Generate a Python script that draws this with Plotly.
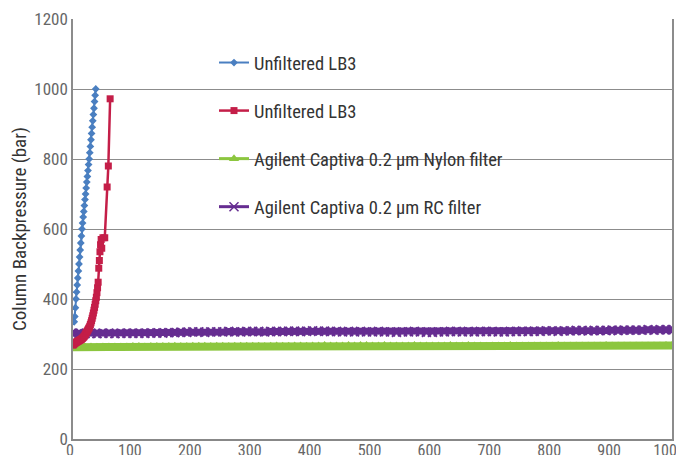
import plotly.graph_objects as go

# ---------------- data ----------------
blue_x = [2, 3, 4, 5, 6, 7, 8, 9, 10, 11, 12, 13, 14, 15, 16, 17, 18, 19, 20,
          21, 22, 23, 24, 25, 26, 27, 28, 29, 30, 31, 32, 33, 34, 35, 36, 37, 38]
blue_y = [335, 350, 375, 400, 420, 440, 460, 480, 500, 520, 540, 560, 580, 600,
          617, 634, 650, 667, 684, 700, 717, 734, 750, 767, 784, 800, 818, 836,
          855, 873, 891, 909, 927, 945, 964, 982, 1000]

red_x = [0, 1, 2, 3, 4, 5, 6, 7, 8, 9, 10, 11, 12, 13, 14, 15, 16, 17, 18, 19,
         20, 21, 22, 23, 24, 25, 26, 27, 28, 29, 30, 31, 32, 33, 34, 35, 36, 37,
         38, 39, 40, 41, 42, 43, 44, 45, 46, 47, 48, 50, 53, 57, 59, 62]
red_y = [268, 270, 272, 273, 275, 276, 277, 278, 279, 280, 281, 282, 283, 284,
         285, 287, 288, 290, 292, 294, 297, 300, 303, 306, 309, 312, 315, 318,
         322, 327, 332, 338, 345, 352, 360, 368, 376, 385, 395, 405, 418, 432,
         448, 488, 510, 535, 555, 570, 545, 575, 575, 720, 780, 972]

band_x = list(range(0, 1001, 10))
purple_y = [302, 302, 301, 302, 301, 302, 302, 301, 302, 302,
            302, 302, 302, 303, 303, 303, 304, 304, 305, 305,
            306, 306, 305, 306, 306, 306, 307, 306, 306, 307,
            307, 307, 306, 307, 307, 307, 308, 308, 307, 308,
            309, 308, 308, 307, 307, 306, 307, 306, 307, 306,
            306, 307, 306, 306, 305, 306, 306, 307, 306, 305,
            305, 306, 306, 307, 307, 306, 307, 306, 307, 307,
            307, 306, 306, 307, 307, 308, 307, 308, 308, 309,
            309, 308, 309, 309, 310, 310, 309, 310, 310, 310,
            311, 310, 311, 311, 311, 311, 312, 311, 312, 312,
            312]
green_y = [262, 263, 263, 263, 262, 263, 263, 263, 263, 263,
           264, 264, 263, 264, 264, 264, 264, 265, 264, 264,
           265, 265, 265, 264, 265, 265, 264, 265, 265, 265,
           265, 265, 264, 265, 266, 265, 265, 266, 266, 265,
           266, 266, 267, 266, 266, 266, 267, 266, 267, 267,
           266, 266, 267, 266, 266, 266, 266, 267, 266, 266,
           266, 266, 266, 267, 266, 266, 267, 266, 266, 265,
           266, 266, 266, 267, 266, 266, 266, 266, 266, 266,
           266, 267, 266, 266, 266, 266, 266, 266, 266, 267,
           266, 266, 266, 266, 266, 266, 266, 266, 266, 267,
           267]

names = ["Unfiltered LB3", "Unfiltered LB3",
         "Agilent Captiva 0.2 µm Nylon filter", "Agilent Captiva 0.2 µm RC filter"]
y_ticks = [0, 200, 400, 600, 800, 1000, 1200]
x_ticks = list(range(0, 1001, 100))

FONT = "Liberation Sans Narrow, Roboto Condensed, DejaVu Sans Condensed, Arial Narrow, sans-serif"
GREEN, PURPLE, RED, BLUE = "#8cc63f", "#662d91", "#c41e48", "#4a7fc1"

# page body has an 8px margin: shrink the figure so the page fits the window
OFF = 8
W, H = 684 - OFF, 455 - OFF
L, T = 73 - OFF, 19 - OFF
R = W - (672 - OFF)
B = H - (439 - OFF)

fig = go.Figure()
fig.add_trace(go.Scatter(x=band_x, y=green_y, name=names[2], mode="lines+markers",
                         line=dict(color=GREEN, width=8),
                         marker=dict(symbol="triangle-up", size=9, color=GREEN),
                         showlegend=False))
fig.add_trace(go.Scatter(x=band_x, y=purple_y, name=names[3], mode="lines+markers",
                         line=dict(color=PURPLE, width=7),
                         marker=dict(symbol="x-thin", size=9, color=PURPLE,
                                     line=dict(color=PURPLE, width=2)),
                         showlegend=False))
fig.add_trace(go.Scatter(x=red_x, y=red_y, name=names[1], mode="lines+markers",
                         line=dict(color=RED, width=2.5),
                         marker=dict(symbol="square", size=7, color=RED),
                         legendgroup="g2", legendrank=2))
fig.add_trace(go.Scatter(x=blue_x, y=blue_y, name=names[0], mode="lines+markers",
                         line=dict(color=BLUE, width=2),
                         marker=dict(symbol="diamond", size=6, color=BLUE),
                         legendgroup="g1", legendrank=1))
# legend entries for the band series (thin line + marker like the reference key)
fig.add_trace(go.Scatter(x=[None], y=[None], name=names[2], mode="lines+markers",
                         line=dict(color=GREEN, width=3),
                         marker=dict(symbol="triangle-up", size=9, color=GREEN),
                         legendgroup="g3", legendrank=3))
fig.add_trace(go.Scatter(x=[None], y=[None], name=names[3], mode="lines+markers",
                         line=dict(color=PURPLE, width=3),
                         marker=dict(symbol="x-thin", size=9, color=PURPLE,
                                     line=dict(color=PURPLE, width=1.5)),
                         legendgroup="g4", legendrank=4))

fig.add_shape(type="rect", xref="paper", yref="paper",
              x0=(201 - 73) / 599, x1=(645 - 73) / 599,
              y0=(439 - 222) / 420, y1=(439 - 30) / 420,
              fillcolor="white", line=dict(width=0), layer="between")

fig.update_layout(
    width=W, height=H,
    margin=dict(l=L, r=R, t=T, b=B),
    paper_bgcolor="white", plot_bgcolor="white",
    font=dict(family=FONT, color="#666666", size=17),
    showlegend=True,
    legend=dict(x=(214 - 73) / 599, y=(439 - 44) / 420, xanchor="left", yanchor="top",
                bgcolor="rgba(0,0,0,0)", borderwidth=0,
                font=dict(family=FONT, size=18.5, color="#333333"),
                tracegroupgap=21, traceorder="grouped"),
    xaxis=dict(range=[0, 1000], tickvals=x_ticks, showgrid=False, zeroline=False,
               showline=True, linecolor="#888888", linewidth=1.5, ticks="",
               mirror=False, automargin=False, fixedrange=True,
               ticklabelstandoff=-4, ticklabelshift=-3, ticklabeloverflow="allow",
               tickfont=dict(family=FONT, size=16, color="#666666")),
    yaxis=dict(range=[0, 1200], tickvals=y_ticks, showgrid=True, gridcolor="#8c8c8c",
               gridwidth=1, zeroline=False, showline=True, linecolor="#8c8c8c",
               linewidth=1.5, mirror=True, ticks="", automargin=False,
               tickfont=dict(family=FONT, size=17, color="#666666"),
               title=dict(text="Column Backpressure (bar)", standoff=4,
                          font=dict(family=FONT, size=19, color="#333333"))),
)

fig.write_html("out.html")
